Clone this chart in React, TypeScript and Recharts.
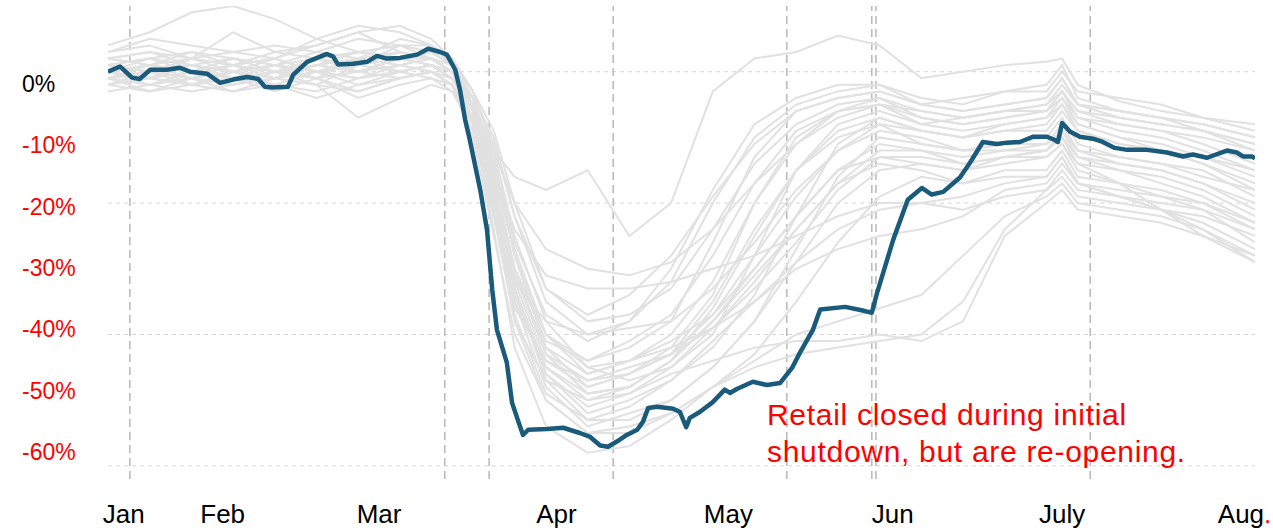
import React from 'react';
import { LineChart, Line, XAxis, YAxis, ReferenceLine } from 'recharts';

// highlighted series (day index, % change vs baseline)
const focusDays = [
  0, 2.3, 4.6, 6.1, 8.1, 11.3, 13.8, 15.7, 19, 21.5, 24, 26.7, 28.8, 30.1, 31.6, 34.5, 35.5, 38.2, 42, 43.2,
  44.1, 47, 49.7, 51.6, 53.5, 56, 59.3, 61.4, 63.7, 65, 66.6, 67.5, 68.5, 69.4, 71.4, 72.7, 73.7, 74.6, 76.5, 77.5,
  78.6, 79.6, 80.6, 84.2, 87.3, 90.5, 92.5, 94.4, 95.9, 97.6, 99.5, 101.5, 102.6, 103.6, 105.3, 108.4, 109.7, 110.9, 111.6, 113.5,
  116, 118.3, 119.3, 120.6, 123.7, 126.4, 128.9, 131.2, 132.7, 135.2, 136.6, 141.4, 145, 146.5, 147.5, 150.6, 153.4, 156.1, 158, 160.2,
  163.4, 165.3, 167.8, 170.5, 172.4, 174.9, 177.4, 180.1, 181.6, 182.2, 183, 184.5, 186.4, 188.9, 190.8, 193.1, 195.5, 199.3, 203.1, 206.2,
  208.1, 210.8, 214.6, 216.5, 217.7, 219.4, 220,
];
const focusValues = [
  0, 0.8, -0.9, -1.1, 0.3, 0.3, 0.6, 0, -0.3, -1.7, -1.2, -0.8, -1.1, -2.3, -2.4, -2.3, -0.5, 1.5, 2.7, 2.3,
  1.1, 1.2, 1.5, 2.4, 2.0, 2.1, 2.6, 3.5, 3.0, 2.6, 0.3, -2.7, -7.3, -10.4, -18, -24.1, -33.2, -39.3, -44.3, -50.4,
  -53, -55.3, -54.5, -54.4, -54.2, -55, -55.6, -56.9, -57.1, -56.3, -55.3, -54.5, -53.3, -51.2, -51, -51.3, -51.8, -54.1, -52.7, -51.8,
  -50.3, -48.4, -48.9, -48.3, -47.2, -47.7, -47.4, -45.1, -42.8, -39.3, -36.2, -35.8, -36.4, -36.7, -33.7, -25.6, -19.5, -17.7, -18.7, -18.3,
  -16.1, -13.9, -10.7, -11, -10.8, -10.7, -9.9, -9.9, -10.4, -10.7, -7.8, -9.1, -9.9, -10.2, -10.7, -11.6, -11.9, -11.9, -12.3, -12.9,
  -12.6, -13.1, -12, -12.3, -12.9, -12.9, -13.2,
];

// background peers, sampled on these days
const peerDays = [0, 8, 16, 24, 32, 40, 48, 56, 62, 66, 70, 74, 78, 84, 92, 100, 108, 116, 124, 132, 140, 148, 156, 164, 172, 180, 183, 186, 194, 202, 210, 220];
const peerSeries = [
  [3, 4, 2, 6, 3, 4, 6, 7, 5, 2, -6, -12, -16, -18, -15, -25, -20, -3, 2, 3, 5.5, 4, -1, 0, 1, 1.5, 2, -2, -4.5, -6, -7, -9],
  [1, 2, 0, 1, -1, 2, 3, 2, 3, 1, -8, -22, -32, -38, -40, -38, -30, -18, -8, -4, -2, -2, -4, -5, -3, -2, 1, -4, -6, -7, -8, -10],
  [-2, 0, 1, -1, 0, 1, 2, 3, 2, 0, -6, -18, -30, -40, -44, -42, -38, -26, -13, -6, -4, -3, -5, -6, -5, -4, -1, -5, -7, -8, -9, -12],
  [0, -1, 2, 1, 3, 2, 1, 4, 3, 1, -4, -15, -28, -42, -48, -46, -42, -34, -20, -10, -6, -5, -6, -7, -6, -5, -3, -6, -8, -9, -11, -14],
  [2, 1, -2, 0, 1, 3, 5, 4, 4, 2, -3, -12, -25, -38, -45, -47, -45, -40, -28, -15, -8, -6, -8, -9, -8, -7, -4, -8, -10, -11, -13, -16],
  [-1, -3, -2, -1, -2, 0, -1, 1, 2, 0, -5, -17, -33, -46, -52, -50, -47, -42, -34, -22, -11, -7, -9, -10, -9, -8, -5, -9, -11, -12, -14, -18],
  [0, 1, 3, 2, 1, -1, 0, 2, 1, -1, -7, -20, -35, -48, -54, -52, -50, -45, -38, -27, -16, -10, -11, -12, -11, -10, -7, -11, -13, -14, -15, -19],
  [1, 0, -1, -3, -2, -4, -2, 0, 1, -1, -4, -10, -22, -35, -40, -39, -38, -33, -26, -18, -12, -9, -10, -12, -11, -11, -9, -12, -14, -15, -17, -20],
  [-3, -2, 0, -1, -3, -1, -4, -2, -1, -3, -9, -22, -36, -44, -47, -45, -43, -39, -33, -26, -18, -13, -13, -14, -13, -12, -10, -14, -15, -16, -18, -22],
  [3, 5, 4, 3, 2, 4, 6, 3, 2, 0, -5, -16, -30, -41, -44, -41, -37, -28, -17, -9, -6, -5, -8, -7, -6, -6, -3, -6, -7, -8, -9, -11],
  [0, 2, 1, 0, -1, -2, 1, 0, -1, -2, -10, -25, -40, -50, -55, -54, -52, -48, -43, -35, -26, -19, -16, -17, -15, -15, -12, -16, -17, -18, -20, -24],
  [-1, 0, -2, -3, -1, -2, -7, -4, -2, -3, -8, -19, -31, -42, -46, -44, -41, -37, -30, -22, -15, -13, -14, -15, -14, -13, -11, -15, -17, -19, -21, -26],
  [1, -1, 0, 2, 0, -1, 2, 1, 0, -2, -8, -24, -42, -54, -58, -57, -53, -48, -44, -40, -38, -36, -34, -28, -22, -19, -17, -20, -21, -22, -24, -29],
  [-2, -1, 1, 0, 2, 5, 7, 6, 4, 1, -4, -14, -27, -40, -46, -44, -42, -39, -35, -30, -27, -25, -24, -22, -18, -17, -14, -17, -18, -19, -20, -23],
  [2, 3, 1, 0, 1, 0, -2, -1, 0, -1, -6, -16, -30, -43, -49, -48, -44, -36, -25, -15, -9, -7, -9, -10, -8, -7, -5, -8, -10, -12, -13, -15],
  [0, -2, -3, -2, -1, 1, 0, 2, 3, 1, -3, -9, -20, -33, -38, -37, -33, -24, -14, -8, -5, -4, -7, -8, -7, -6, -4, -7, -8, -9, -10, -12],
  [-1, 0, 2, 1, 0, 2, 3, 4, 2, 0, -6, -20, -35, -45, -50, -49, -46, -44, -42, -41, -41, -40, -41, -38, -25, -20, -18, -21, -22, -23, -25, -28],
  [1, 2, 3, 1, 2, 0, 1, 3, 2, 1, -5, -18, -32, -44, -48, -46, -43, -35, -24, -15, -10, -8, -11, -12, -12, -11, -8, -12, -13, -14, -16, -18],
  [-2, -3, -1, -2, 0, -1, -3, -1, 0, -2, -7, -21, -37, -49, -53, -51, -47, -41, -35, -29, -24, -21, -20, -21, -19, -18, -16, -19, -20, -21, -22, -25],
  [4, 6, 9, 10, 8, 5, 3, 2, 3, 1, -4, -13, -26, -37, -41, -38, -32, -20, -10, -5, -3, -2, -5, -4, -3, -3, 0, -3, -4, -5, -7, -8],
  [0, 1, 0, -1, 1, 2, 0, 1, 2, 0, -5, -17, -33, -47, -53, -53, -50, -45, -38, -29, -20, -15, -14, -15, -13, -12, -9, -13, -14, -15, -17, -21],
  [-1, -2, -1, 0, -2, -3, -1, 0, 1, -1, -6, -19, -34, -46, -51, -49, -45, -39, -32, -24, -17, -14, -15, -17, -16, -16, -13, -17, -19, -21, -24, -28],
  [1, 0, -1, 1, 2, 0, 2, 1, 0, -1, -5, -12, -20, -27, -30, -31, -29, -24, -17, -11, -7, -5, -7, -8, -7, -6, -3, -7, -9, -10, -12, -15],
  [0, -1, -2, 0, -1, 1, 0, -1, 0, -2, -7, -15, -24, -31, -33, -33, -32, -30, -28, -25, -22, -20, -20, -19, -17, -16, -13, -17, -19, -21, -23, -27],
  [2, 1, 0, -1, 0, 1, 3, 2, 1, -1, -6, -20, -38, -50, -55, -55, -52, -48, -45, -43, -42, -41, -40, -35, -24, -18, -15, -18, -19, -20, -21, -24],
  [-1, 1, 2, 0, -1, 0, 1, 2, 2, 0, -4, -14, -28, -40, -45, -44, -40, -32, -20, -11, -6, -4, -6, -7, -6, -5, -2, -5, -6, -7, -8, -10],
  [1, -1, -2, -1, 0, -2, -3, -1, 0, -2, -8, -22, -38, -47, -50, -48, -44, -38, -31, -24, -17, -12, -12, -13, -12, -12, -10, -13, -15, -17, -19, -23],
  [0, 1, -1, -2, 0, 1, 2, 0, 1, 0, -5, -16, -31, -43, -47, -46, -43, -37, -28, -19, -12, -8, -9, -10, -9, -9, -6, -9, -11, -12, -14, -17],
  [2, 3, 2, 3, 4, 3, 2, 5, 4, 2, -3, -11, -22, -33, -37, -34, -28, -19, -11, -6, -4, -3, -5, -6, -5, -4, -1, -5, -6, -7, -9, -11],
  [-1, 0, 1, 2, 1, 0, -1, 0, 1, -1, -6, -18, -33, -45, -49, -48, -44, -38, -30, -22, -15, -11, -12, -14, -13, -13, -11, -14, -17, -21, -25, -29],
];

const monthTicks = [3, 22, 52, 86, 119, 150.5, 183, 218];
const monthLabels = ['Jan', 'Feb', 'Mar', 'Apr', 'May', 'Jun', 'July', 'Aug'];
const markerDays = [4.2, 64.6, 73.1, 96.9, 130.2, 146.5, 147.3, 188.4];
const gridValues = [0, -20, -40, -60];
const pctTicks = [0, -10, -20, -30, -40, -50, -60];

const focusData = focusDays.map((day, i) => ({ day, value: focusValues[i] }));
const peerData = peerSeries.map((vals) => vals.map((value, i) => ({ day: peerDays[i], value })));

const FONT = '"Liberation Sans", Arial, sans-serif';

const PctTick = ({ y, payload }: any) => (
  <text x={22} y={y} dy="0.36em" fontSize={23} fontFamily={FONT} fill={payload.value === 0 ? '#000' : '#ff0000'}>
    {`${payload.value}%`}
  </text>
);

const MonthTick = ({ x, y, payload }: any) => {
  const label = monthLabels[monthTicks.indexOf(payload.value)];
  return (
    <text x={x} y={y} dy={36} textAnchor="middle" fontSize={26} fontFamily={FONT} fill="#000">
      {label}
      {label === 'Aug' && <tspan fill="#ff0000">.</tspan>}
    </text>
  );
};

export default function App() {
  return (
    <div style={{ position: 'relative', width: 1273, height: 531, fontFamily: FONT, background: '#fff' }}>
      <style>{'html, body { margin: 0; padding: 0; overflow: hidden; }'}</style>
      <LineChart width={1273} height={531} margin={{ top: 6, right: 18, bottom: 0, left: 0 }}>
        <XAxis
          type="number"
          dataKey="day"
          domain={[0, 220]}
          ticks={monthTicks}
          tick={<MonthTick />}
          axisLine={false}
          tickLine={false}
          height={52}
          interval={0}
          allowDataOverflow
        />
        <YAxis yAxisId="val" type="number" domain={[-62, 10]} hide allowDataOverflow />
        <YAxis
          yAxisId="lbl"
          type="number"
          domain={[-64.4, 12.6]}
          ticks={pctTicks}
          tick={<PctTick />}
          axisLine={false}
          tickLine={false}
          width={108}
          interval={0}
          allowDataOverflow
        />
        {gridValues.map((v) => (
          <ReferenceLine key={`g${v}`} yAxisId="val" y={v} stroke="#d6d6d6" strokeDasharray="4 4" strokeWidth={1} />
        ))}
        {markerDays.map((d) => (
          <ReferenceLine key={`m${d}`} yAxisId="val" x={d} stroke="#b8b8b8" strokeDasharray="8 5" strokeWidth={1.5} />
        ))}
        {peerData.map((data, i) => (
          <Line
            key={`p${i}`}
            yAxisId="val"
            data={data}
            dataKey="value"
            type="linear"
            stroke="#e1e1e1"
            strokeWidth={2}
            dot={false}
            activeDot={false}
            isAnimationActive={false}
          />
        ))}
        <Line
          yAxisId="val"
          data={focusData}
          dataKey="value"
          type="linear"
          stroke="#1a5b7b"
          strokeWidth={4.5}
          strokeLinejoin="round"
          dot={false}
          activeDot={false}
          isAnimationActive={false}
        />
      </LineChart>
      <div
        style={{
          position: 'absolute',
          left: 767,
          top: 396,
          color: '#ff0000',
          fontSize: 30,
          lineHeight: '37px',
          letterSpacing: 0.7,
          whiteSpace: 'nowrap',
        }}
      >
        Retail closed during initial
        <br />
        shutdown, but are re-opening.
      </div>
    </div>
  );
}
